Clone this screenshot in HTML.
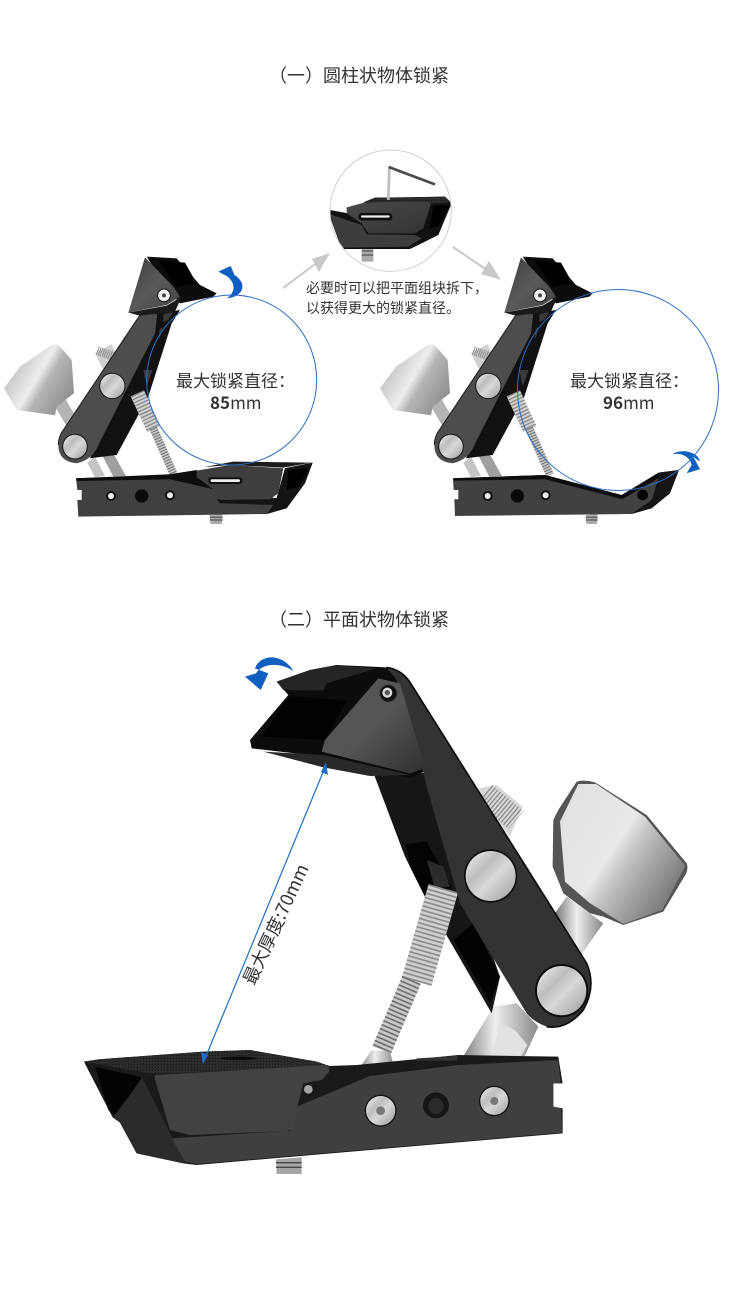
<!DOCTYPE html>
<html lang="zh"><head><meta charset="utf-8"><title>锁紧</title>
<style>html,body{margin:0;padding:0;background:#fff}svg{display:block}
text{font-family:"Liberation Sans","Noto Sans CJK SC",sans-serif;fill:#333}
.cj{font-family:"Noto Sans CJK SC","Liberation Sans",sans-serif}</style></head><body>
<svg xmlns="http://www.w3.org/2000/svg" width="730" height="1301" viewBox="0 0 730 1301">
<defs>
<linearGradient id="gw" gradientUnits="userSpaceOnUse" x1="30" y1="680" x2="215" y2="790"><stop offset="0" stop-color="#c0c0c0"/><stop offset=".4" stop-color="#ededed"/><stop offset=".55" stop-color="#b5b5b5"/><stop offset="1" stop-color="#8a8a8a"/></linearGradient>
<linearGradient id="gwb" gradientUnits="userSpaceOnUse" x1="1000" y1="520" x2="1360" y2="760"><stop offset="0" stop-color="#e2e2e2"/><stop offset=".42" stop-color="#e8e8e8"/><stop offset=".56" stop-color="#c2c2c2"/><stop offset=".72" stop-color="#a2a2a2"/><stop offset="1" stop-color="#6f6f6f"/></linearGradient>
<linearGradient id="gb" x1="0" y1="0" x2="1" y2="1"><stop offset="0" stop-color="#f5f5f5"/><stop offset=".35" stop-color="#bdbdbd"/><stop offset=".55" stop-color="#d8d8d8"/><stop offset="1" stop-color="#9c9c9c"/></linearGradient>
<linearGradient id="ga2" x1="0" y1="0" x2="1" y2="1"><stop offset="0" stop-color="#555"/><stop offset=".5" stop-color="#555"/><stop offset="1" stop-color="#2f2f2f"/></linearGradient>
<linearGradient id="gt" x1="0" y1="0" x2="1" y2="1"><stop offset="0" stop-color="#3a3a3a"/><stop offset=".5" stop-color="#5a5a5a"/><stop offset="1" stop-color="#424242"/></linearGradient>
<linearGradient id="gr" x1="0" y1="0" x2="1" y2="0"><stop offset="0" stop-color="#777"/><stop offset=".45" stop-color="#eee"/><stop offset="1" stop-color="#888"/></linearGradient>
<linearGradient id="gp" x1="0" y1="0" x2="1" y2="1"><stop offset="0" stop-color="#4a4a4a"/><stop offset="1" stop-color="#333"/></linearGradient>
<pattern id="rib" width="9" height="9" patternUnits="userSpaceOnUse"><rect width="9" height="9" fill="#2d2d2d"/><circle cx="4" cy="4" r="2" fill="#151515"/></pattern>
<clipPath id="ic"><circle cx="197" cy="197" r="182"/></clipPath>
<g id="arm">
 <path d="M285 640 335 612 350 650 310 690Z" fill="#cfcfcf"/>
 <path d="M292 632 342 650" stroke="#8a8a8a" stroke-width="26" stroke-dasharray="3 3" fill="none"/>
 <path d="M165 800 195 775 245 860 215 885Z" fill="#b4b4b4"/>
 <path d="M12 745 60 680 150 618Q170 605 185 625L215 660 222 760 170 800 165 826 50 810Z" fill="url(#gw)"/>
 <path d="M262 968 285 950 315 1008 285 1012Z" fill="#c4c4c4"/>
 <path d="M295 925 320 905 378 1008 340 1010Z" fill="#a0a0a0"/>
 <path d="M440 525 540 510 515 550 445 770 350 945 270 955Z" fill="#111"/>
 <path d="M490 522 520 516 505 540 490 545ZM478 570 488 560 478 600ZM430 690 458 690 440 740Z" fill="#3a3a3a"/>
 <path d="M412 760 462 868" stroke="#d2d2d2" stroke-width="44" fill="none"/>
 <path d="M412 760 462 868" stroke="#4a4a4a" stroke-width="44" stroke-dasharray="4 6" fill="none" opacity=".55"/>
 <path d="M460 865 522 1005" stroke="#c8c8c8" stroke-width="24" fill="none"/>
 <path d="M460 865 522 1005" stroke="#333" stroke-width="24" stroke-dasharray="3 5" fill="none" opacity=".6"/>
 <path d="M420 525 472 522 465 580 300 905Q280 960 230 970 175 965 175 915 175 890 190 870Z" fill="#4d4d4d"/>
 <path d="M420 525 190 870Q175 890 175 915" fill="none" stroke="#1a1a1a" stroke-width="3"/>
 <path d="M440 350 530 355 600 435 650 460 640 470 540 490 500 445Z" fill="#0c0c0c"/>
 <path d="M475 362 555 368 590 430 530 440Z" fill="#000"/>
 <path d="M435 352 520 440 540 470 500 495 385 518Z" fill="url(#gt)"/>
 <path d="M385 518 500 497 545 470 525 515 420 527Z" fill="#1a1a1a"/>
 <circle cx="492" cy="466" r="19" fill="#efefef" stroke="#111" stroke-width="3"/><circle cx="492" cy="466" r="6" fill="#444"/>
 <circle cx="337" cy="738" r="38" fill="url(#gb)" stroke="#151515" stroke-width="3"/>
 <circle cx="225" cy="920" r="37" fill="url(#gb)" stroke="#151515" stroke-width="3"/>
</g>
</defs>
<rect width="730" height="1301" fill="#fff"/>

<text class="cj" x="269" y="82" font-size="18">（一）圆柱状物体锁紧</text>
<text class="cj" x="269" y="626" font-size="18">（二）平面状物体锁紧</text>

<!-- left clamp -->
<g transform="translate(0,140) scale(.3333)">
 <use href="#arm"/>
 <path d="M628 1125 668 1122 666 1152 632 1152Z" fill="#aaa"/>
 <path d="M630 1132H668M630 1140H668" stroke="#444" stroke-width="3"/>
 <path d="M228 1015 510 1005 640 1045 830 1075 855 985 938 968 915 1030 860 1105 800 1122 235 1130 232 1080 245 1080 245 1050 232 1050Z" fill="#404040"/>
 <path d="M228 1015 510 1003 590 990 650 1050 510 1018 230 1023Z" fill="#0d0d0d"/>
 <path d="M650 1078 830 1075 855 985 938 968 915 1030 860 1105 800 1122 820 1095 660 1090Z" fill="#141414"/>
 <path d="M865 990 925 985 900 1040 860 1050Z" fill="#000"/>
 <circle cx="333" cy="1068" r="15" fill="#111"/><circle cx="333" cy="1068" r="9" fill="#eee"/>
 <circle cx="425" cy="1068" r="20" fill="#0a0a0a"/>
 <circle cx="510" cy="1066" r="15" fill="#111"/><circle cx="510" cy="1066" r="9" fill="#eee"/>
 <path d="M590 992 690 975 850 985 835 1060 810 1078 660 1080 640 1048 590 1012Z" fill="#3e3e3e"/>
 <path d="M610 982 700 965 935 968 850 983 690 975Z" fill="#1b1b1b"/>
 <rect x="625" y="1012" width="102" height="20" rx="8" fill="#111"/><rect x="632" y="1018" width="88" height="8" rx="4" fill="#eee"/>
 <path d="M680 475C735 470 745 425 695 400L712 425 692 378 655 395 680 408C710 430 705 460 680 475Z" fill="#0f5fc0"/>
</g>
<circle cx="231.7" cy="380" r="85" fill="none" stroke="#2b6fc4" stroke-width="1"/>

<!-- right clamp -->
<g transform="translate(376,0)"><g transform="translate(0,140) scale(.3333)"><use href="#arm"/></g></g>
<g transform="translate(365,140) scale(.3333)">
 <path d="M662 1125 698 1122 696 1152 664 1152Z" fill="#aaa"/>
 <path d="M662 1132H698M662 1140H698" stroke="#444" stroke-width="3"/>
 <path d="M264 1015 540 1005 770 1065 880 998 942 990 915 1060 860 1105 800 1122 270 1128 268 1078 280 1078 280 1050 266 1050Z" fill="#414141"/>
 <path d="M264 1015 540 1005 770 1065 882 998 942 990 925 1000 885 1012 772 1078 540 1018 266 1022Z" fill="#0d0d0d"/>
 <path d="M885 1000 942 990 915 1060 860 1105 800 1122 860 1080Z" fill="#151515"/>
 <circle cx="368" cy="1068" r="15" fill="#111"/><circle cx="368" cy="1068" r="9" fill="#eee"/>
 <circle cx="457" cy="1068" r="20" fill="#0a0a0a"/>
 <circle cx="542" cy="1066" r="15" fill="#111"/><circle cx="542" cy="1066" r="9" fill="#eee"/>
 <circle cx="833" cy="1065" r="16" fill="#050505"/>
 <path d="M922 942C950 925 1000 935 1005 965L985 950 1005 988 965 1000 980 975C975 950 950 938 922 942Z" fill="#0f5fc0"/>
</g>
<circle cx="618" cy="390" r="100.5" fill="none" stroke="#2b6fc4" stroke-width="1"/>

<!-- inset -->
<g transform="translate(325,145) scale(.3333)">
 <g clip-path="url(#ic)">
  <path d="M110 308H145V350H110Z" fill="#aaa"/>
  <path d="M110 318H145M110 330H145" stroke="#555" stroke-width="4"/>
  <path d="M15 195 70 205 120 170 150 158 360 155 380 175 340 270 280 300 255 312 50 312 15 215Z" fill="#111"/>
  <path d="M15 208 110 240 125 268 270 270 290 280 250 305 50 308Z" fill="#3d3d3d"/>
  <path d="M120 170 150 160 360 155 378 172 320 176Z" fill="url(#rib)"/>
  <path d="M325 182 372 182 340 245 315 250Z" fill="#000"/>
  <path d="M65 187 120 172 305 170 318 176 295 250 270 265 130 265 110 235 65 205Z" fill="url(#gp)"/>
  <rect x="100" y="204" width="102" height="22" rx="10" fill="#0f0f0f"/><rect x="108" y="211" width="86" height="7" rx="3.5" fill="#eee"/>
 </g>
 <path d="M190 165 193 66" stroke="#bdbdbd" stroke-width="8" fill="none"/>
 <path d="M191 66 330 118" stroke="#4a4a4a" stroke-width="8" fill="none"/>
 <circle cx="197" cy="197" r="182" fill="none" stroke="#cfcfcf" stroke-width="3"/>
</g>

<!-- grey arrows -->
<path d="M283 288 318 262" stroke="#c8c8c8" stroke-width="2" fill="none"/>
<path d="M330 253 319 272 312 259Z" fill="#c8c8c8"/>
<path d="M453 247 490 272" stroke="#c8c8c8" stroke-width="2" fill="none"/>
<path d="M501 280 481 274 489 261Z" fill="#c8c8c8"/>

<text class="cj" x="306" y="293" font-size="14">必要时可以把平面组块拆下，</text>
<text class="cj" x="306" y="313" font-size="14">以获得更大的锁紧直径。</text>
<text class="cj" x="176" y="387" font-size="17">最大锁紧直径：</text>
<text class="cj" x="210" y="409" font-size="17"><tspan font-weight="700">85</tspan>mm</text>
<text class="cj" x="570" y="387" font-size="17">最大锁紧直径：</text>
<text class="cj" x="603" y="409" font-size="17"><tspan font-weight="700">96</tspan>mm</text>

<!-- large clamp upper -->
<g transform="translate(230,640) scale(.3333)">
 <path d="M745 445 800 435 878 500 840 590 790 530Z" fill="#d8d8d8"/>
 <path d="M765 462 858 540" stroke="#8d8d8d" stroke-width="70" stroke-dasharray="4 6" fill="none"/>
 <path d="M975 820 1010 770 1120 850 1050 950Z" fill="url(#gr)"/>
 <path d="M1040 425Q1060 418 1095 427L1250 525 1370 670Q1378 690 1360 715L1300 815 1180 855 1120 830 1080 820 1000 760 968 680 970 540 985 510Z" fill="#555"/>
 <path d="M1045 432 1098 432 1245 530 1366 678 1297 810 1180 852 1080 790 1005 725 990 545Z" fill="url(#gwb)"/>
 <path d="M790 1100 860 1090 925 1160 880 1258 690 1265Z" fill="url(#gr)"/>
 <path d="M810 1150 855 1170 892 1215 870 1255 780 1262Z" fill="#e2e2e2"/>
 <path d="M430 398 585 398 700 700 810 1010 785 1120 600 800 525 650Z" fill="#161616"/>
 <path d="M527 612 590 605 665 740 600 800 540 680Z" fill="#040404"/>
 <path d="M590 660 640 680 660 740 615 745Z" fill="#2b2b2b"/>
 <path d="M670 900 730 850 810 1010 780 1090Z" fill="#030303"/>
 <path d="M640 745 560 1025" stroke="#d0d0d0" stroke-width="92" fill="none"/>
 <path d="M640 745 560 1025" stroke="#555" stroke-width="92" stroke-dasharray="5 8" fill="none" opacity=".55"/>
 <path d="M545 1020 455 1230" stroke="#c8c8c8" stroke-width="60" fill="none"/>
 <path d="M545 1020 455 1230" stroke="#333" stroke-width="60" stroke-dasharray="5 8" fill="none" opacity=".6"/>
 <path d="M425 1230 480 1235 495 1290 385 1290Z" fill="url(#gr)"/>
 <path d="M140 125 240 90 320 75 470 82 520 110 590 390 540 415 280 350 65 325 60 300 175 165Z" fill="#0c0c0c"/>
 <path d="M470 82Q520 90 545 135L1070 970Q1100 1040 1060 1110 1010 1170 950 1160 910 1145 890 1120L690 790 590 440 580 395 500 120Z" fill="#333"/>
 <path d="M470 82Q520 90 545 135L1070 970Q1100 1040 1060 1110 1010 1170 950 1160" fill="none" stroke="#0c0c0c" stroke-width="5"/>
 <path d="M140 125 240 90 320 75 440 85 290 130 280 152 160 150Z" fill="#252525"/>
 <path d="M178 168 350 182 285 300 95 290Z" fill="#020202"/>
 <path d="M445 115 285 300 275 335 540 400 585 385 510 130Z" fill="url(#ga2)"/>
 <path d="M100 335 280 345 540 405 420 408 280 382Z" fill="#292929"/>
 <circle cx="475" cy="160" r="26" fill="#111" stroke="#444" stroke-width="3"/><circle cx="472" cy="158" r="15" fill="#ddd"/><circle cx="472" cy="158" r="8" fill="#555"/>
 <circle cx="782" cy="708" r="80" fill="#0c0c0c"/><circle cx="782" cy="708" r="75" fill="url(#gb)"/>
 <circle cx="995" cy="1052" r="80" fill="#0c0c0c"/><circle cx="995" cy="1052" r="74" fill="url(#gb)"/>
 <path d="M190 93C160 40 90 40 75 85L115 100 92 150 45 110 78 100C95 70 150 65 190 93Z" fill="#0f5fc0"/>
</g>

<!-- large clamp base -->
<g transform="translate(70,1000) scale(.3333)">
 <path d="M618 478 695 472 695 522 620 522Z" fill="#a5a5a5"/>
 <path d="M618 488H695M618 502H695" stroke="#444" stroke-width="4"/>
 <path d="M42 185 85 178 400 155 540 150 740 185 778 198 860 195 1165 165 1465 170 1478 250 1450 250 1450 320 1478 325 1478 400 380 495 340 490 200 460 150 368 128 352 70 240Z" fill="#1a1a1a"/>
 <path d="M85 178 400 155 540 150 740 185 778 198 250 222 42 185Z" fill="url(#rib)"/>
 <ellipse cx="505" cy="175" rx="55" ry="5" fill="#0a0a0a"/>
 <path d="M75 200 215 232 135 350 115 330Z" fill="#030303"/>
 <path d="M218 235 300 400 345 490 200 460 150 368 130 350Z" fill="#2b2b2b"/>
 <path d="M685 318 900 228 1165 195 1465 180 1472 250 1450 250 1450 320 1474 325 1476 398 380 492 345 485 305 415 660 392Z" fill="#3f3f3f"/>
 <path d="M1040 175 1165 168 1160 182 1040 182Z" fill="#333"/>
 <path d="M255 225 775 195 778 215 755 240 700 250 685 310 672 385 650 393 360 405 300 390 255 238Z" fill="#424242"/>
 <circle cx="715" cy="268" r="13" fill="#a5a5a5"/>
 <circle cx="932" cy="332" r="48" fill="#111"/><circle cx="932" cy="332" r="44" fill="url(#gb)"/><circle cx="932" cy="332" r="13" fill="#777"/>
 <circle cx="1098" cy="316" r="39" fill="#161616"/><circle cx="1098" cy="318" r="24" fill="#2a2a2a"/>
 <circle cx="1273" cy="303" r="46" fill="#111"/><circle cx="1273" cy="303" r="42" fill="url(#gb)"/><circle cx="1273" cy="303" r="12" fill="#777"/>
</g>

<!-- dimension arrow -->
<path d="M326 765 204 1061" stroke="#1f6fc6" stroke-width="1.2" fill="none"/>
<path d="M326 762 328 775 321 772Z M203 1064 201 1052 208 1055Z" fill="#1f6fc6"/>
<text class="cj" transform="translate(254,986) rotate(-65)" font-size="18">最大厚度:70mm</text>
</svg></body></html>
